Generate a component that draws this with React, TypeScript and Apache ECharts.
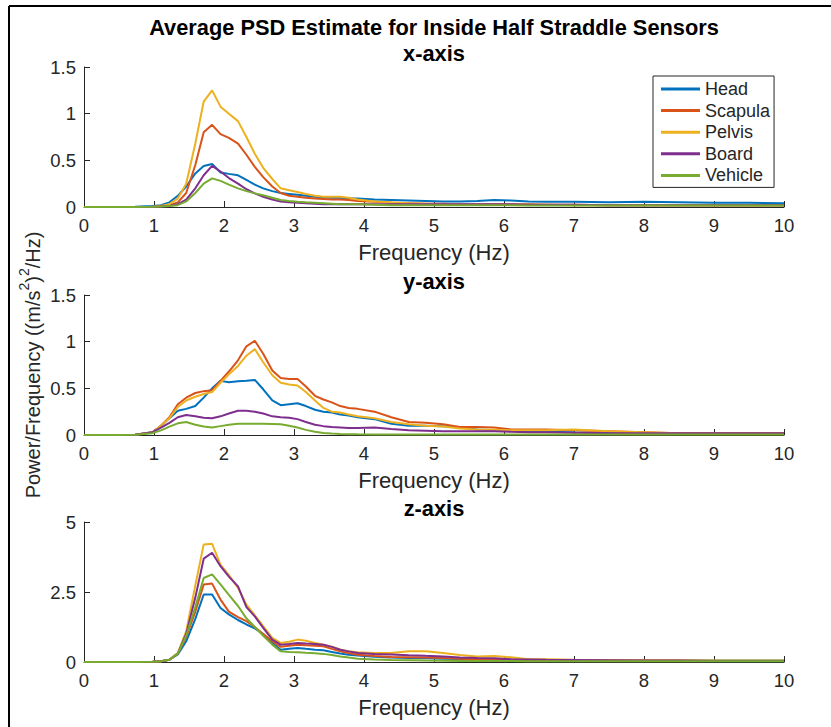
import React, { useEffect, useRef } from "react";
import * as echarts from "echarts";

const freq = [0, 0.49, 0.73, 0.98, 1.1, 1.22, 1.34, 1.46, 1.59, 1.71, 1.83, 1.95, 2.07, 2.2, 2.32, 2.44, 2.56, 2.69, 2.81, 2.93, 3.05, 3.17, 3.3, 3.42, 3.54, 3.66, 3.78, 3.91, 4.15, 4.39, 4.64, 4.88, 5.13, 5.37, 5.62, 5.86, 6.1, 6.35, 6.6, 7.0, 7.5, 8.0, 8.5, 9.0, 9.5, 10];

const sensors = ["Head", "Scapula", "Pelvis", "Board", "Vehicle"];
const colors = ["#0072BD", "#D95319", "#EDB120", "#7E2F8E", "#77AC30"];

// x-axis panel
const headX = [0, 0, 0.002, 0.01, 0.02, 0.05, 0.12, 0.22, 0.36, 0.44, 0.46, 0.37, 0.355, 0.34, 0.29, 0.24, 0.2, 0.17, 0.15, 0.14, 0.13, 0.12, 0.11, 0.105, 0.1, 0.1, 0.095, 0.09, 0.08, 0.075, 0.07, 0.065, 0.06, 0.06, 0.065, 0.075, 0.07, 0.06, 0.055, 0.055, 0.05, 0.055, 0.05, 0.045, 0.045, 0.04];
const scapulaX = [0, 0, 0, 0.003, 0.01, 0.02, 0.05, 0.15, 0.45, 0.8, 0.88, 0.78, 0.74, 0.68, 0.56, 0.43, 0.32, 0.22, 0.15, 0.12, 0.11, 0.1, 0.09, 0.085, 0.08, 0.08, 0.075, 0.065, 0.055, 0.045, 0.04, 0.035, 0.035, 0.03, 0.03, 0.03, 0.03, 0.03, 0.025, 0.025, 0.02, 0.02, 0.02, 0.02, 0.02, 0.02];
const pelvisX = [0, 0, 0, 0.003, 0.01, 0.03, 0.09, 0.25, 0.68, 1.13, 1.25, 1.075, 1.0, 0.92, 0.75, 0.57, 0.42, 0.3, 0.2, 0.18, 0.16, 0.14, 0.12, 0.11, 0.11, 0.11, 0.1, 0.08, 0.06, 0.05, 0.04, 0.035, 0.03, 0.03, 0.03, 0.03, 0.03, 0.025, 0.025, 0.02, 0.02, 0.02, 0.02, 0.015, 0.015, 0.015];
const boardX = [0, 0, 0, 0.002, 0.005, 0.01, 0.03, 0.08, 0.2, 0.34, 0.44, 0.38, 0.31, 0.25, 0.19, 0.146, 0.11, 0.08, 0.06, 0.05, 0.045, 0.04, 0.035, 0.03, 0.03, 0.03, 0.03, 0.03, 0.03, 0.03, 0.03, 0.03, 0.03, 0.03, 0.03, 0.03, 0.03, 0.025, 0.025, 0.025, 0.02, 0.02, 0.02, 0.02, 0.02, 0.02];
const vehicleX = [0, 0, 0, 0.002, 0.005, 0.01, 0.02, 0.06, 0.15, 0.25, 0.307, 0.28, 0.24, 0.2, 0.17, 0.146, 0.125, 0.1, 0.075, 0.065, 0.057, 0.05, 0.045, 0.04, 0.035, 0.03, 0.03, 0.03, 0.025, 0.02, 0.02, 0.02, 0.02, 0.02, 0.02, 0.02, 0.02, 0.015, 0.015, 0.015, 0.015, 0.015, 0.015, 0.015, 0.015, 0.015];

// y-axis panel
const headY = [0, 0, 0.002, 0.03, 0.1, 0.18, 0.26, 0.28, 0.31, 0.4, 0.5, 0.58, 0.565, 0.575, 0.58, 0.59, 0.49, 0.37, 0.32, 0.33, 0.34, 0.31, 0.27, 0.25, 0.24, 0.22, 0.21, 0.19, 0.17, 0.12, 0.1, 0.1, 0.095, 0.08, 0.06, 0.05, 0.045, 0.04, 0.035, 0.03, 0.025, 0.02, 0.02, 0.02, 0.02, 0.02];
const scapulaY = [0, 0, 0.002, 0.03, 0.1, 0.19, 0.33, 0.4, 0.45, 0.47, 0.48, 0.58, 0.68, 0.8, 0.95, 1.01, 0.87, 0.69, 0.61, 0.6, 0.6, 0.52, 0.42, 0.38, 0.35, 0.31, 0.29, 0.28, 0.25, 0.19, 0.14, 0.13, 0.115, 0.085, 0.085, 0.08, 0.06, 0.06, 0.06, 0.05, 0.04, 0.03, 0.02, 0.02, 0.02, 0.02];
const pelvisY = [0, 0, 0.002, 0.03, 0.1, 0.18, 0.3, 0.37, 0.41, 0.44, 0.46, 0.56, 0.65, 0.74, 0.85, 0.92, 0.78, 0.64, 0.56, 0.54, 0.53, 0.46, 0.37, 0.29, 0.25, 0.24, 0.22, 0.2, 0.18, 0.14, 0.115, 0.1, 0.09, 0.07, 0.06, 0.055, 0.05, 0.05, 0.05, 0.06, 0.04, 0.03, 0.02, 0.02, 0.02, 0.02];
const boardY = [0, 0, 0.002, 0.03, 0.08, 0.13, 0.19, 0.215, 0.2, 0.185, 0.18, 0.2, 0.23, 0.26, 0.26, 0.25, 0.23, 0.2, 0.19, 0.185, 0.17, 0.14, 0.11, 0.095, 0.085, 0.08, 0.075, 0.075, 0.08, 0.065, 0.05, 0.045, 0.04, 0.04, 0.04, 0.04, 0.035, 0.03, 0.03, 0.025, 0.02, 0.02, 0.02, 0.02, 0.02, 0.02];
const vehicleY = [0, 0, 0.002, 0.02, 0.05, 0.09, 0.125, 0.14, 0.11, 0.09, 0.08, 0.095, 0.11, 0.12, 0.12, 0.12, 0.12, 0.118, 0.115, 0.1, 0.08, 0.055, 0.035, 0.022, 0.015, 0.01, 0.008, 0.007, 0.006, 0.005, 0.005, 0.005, 0.005, 0.005, 0.005, 0.005, 0.005, 0.005, 0.005, 0.005, 0.005, 0.005, 0.005, 0.005, 0.005, 0.005];

// z-axis panel
const headZ = [0, 0, 0, 0.01, 0.03, 0.08, 0.27, 0.74, 1.54, 2.41, 2.41, 1.93, 1.7, 1.5, 1.34, 1.2, 1.0, 0.68, 0.44, 0.47, 0.5, 0.47, 0.44, 0.42, 0.36, 0.3, 0.26, 0.23, 0.19, 0.16, 0.14, 0.13, 0.12, 0.11, 0.1, 0.09, 0.08, 0.07, 0.07, 0.06, 0.06, 0.05, 0.05, 0.05, 0.05, 0.05];
const scapulaZ = [0, 0, 0, 0.01, 0.03, 0.08, 0.3, 0.9, 1.8, 2.77, 2.8, 2.23, 1.8, 1.6, 1.46, 1.25, 1.0, 0.74, 0.54, 0.58, 0.62, 0.6, 0.58, 0.56, 0.47, 0.38, 0.32, 0.26, 0.21, 0.18, 0.17, 0.16, 0.14, 0.12, 0.1, 0.1, 0.08, 0.08, 0.07, 0.06, 0.05, 0.05, 0.04, 0.04, 0.04, 0.04];
const pelvisZ = [0, 0, 0, 0.01, 0.03, 0.08, 0.32, 1.1, 2.73, 4.2, 4.22, 3.48, 3.1, 2.65, 2.05, 1.67, 1.28, 0.86, 0.68, 0.72, 0.8, 0.76, 0.68, 0.62, 0.55, 0.45, 0.38, 0.35, 0.32, 0.32, 0.38, 0.38, 0.32, 0.25, 0.2, 0.21, 0.17, 0.1, 0.1, 0.08, 0.07, 0.06, 0.06, 0.05, 0.05, 0.05];
const boardZ = [0, 0, 0, 0.01, 0.03, 0.08, 0.3, 1.0, 2.3, 3.69, 3.9, 3.42, 3.05, 2.7, 1.96, 1.63, 1.22, 0.8, 0.62, 0.64, 0.68, 0.66, 0.64, 0.62, 0.54, 0.44, 0.38, 0.32, 0.29, 0.27, 0.24, 0.22, 0.2, 0.16, 0.14, 0.13, 0.1, 0.09, 0.08, 0.07, 0.06, 0.05, 0.05, 0.04, 0.04, 0.04];
const vehicleZ = [0, 0, 0, 0.01, 0.03, 0.08, 0.3, 0.94, 1.96, 3.0, 3.13, 2.77, 2.4, 2.0, 1.56, 1.25, 0.94, 0.62, 0.38, 0.36, 0.35, 0.33, 0.31, 0.29, 0.25, 0.2, 0.16, 0.12, 0.09, 0.07, 0.06, 0.05, 0.045, 0.04, 0.04, 0.035, 0.035, 0.03, 0.03, 0.03, 0.03, 0.03, 0.03, 0.03, 0.03, 0.03];

const panels = [
  { title: "x-axis", max: 1.5, interval: 0.5, series: [headX, scapulaX, pelvisX, boardX, vehicleX] },
  { title: "y-axis", max: 1.5, interval: 0.5, series: [headY, scapulaY, pelvisY, boardY, vehicleY] },
  { title: "z-axis", max: 5, interval: 2.5, series: [headZ, scapulaZ, pelvisZ, boardZ, vehicleZ] },
];

const xTicks = [0, 10, 1]; // min, max, interval
const titleText = "Average PSD Estimate for Inside Half Straddle Sensors";

const FONT = "'Liberation Sans', Arial, Helvetica, sans-serif";
const AX = "#262626";

export default function App() {
  const ref = useRef<HTMLDivElement>(null);
  useEffect(() => {
    if (!ref.current) return;
    const chart = echarts.init(ref.current, null, { renderer: "svg" });
    const gridTops = [67, 295, 522];
    const gridH = 140;
    const titleYs = [53, 281, 508];
    const grids = gridTops.map((t) => ({ left: 84, width: 700, top: t, height: gridH }));
    const xAxes = panels.map((_, i) => ({
      type: "value",
      gridIndex: i,
      min: xTicks[0],
      max: xTicks[1],
      interval: xTicks[2],
      name: "Frequency (Hz)",
      nameLocation: "middle",
      nameGap: 34,
      nameTextStyle: { fontFamily: FONT, fontSize: 22, color: AX },
      axisLine: { show: true, lineStyle: { color: AX, width: 1 } },
      axisTick: { show: true, inside: true, length: 6, lineStyle: { color: AX } },
      axisLabel: { fontFamily: FONT, fontSize: 18.5, color: AX, margin: 9 },
      splitLine: { show: false },
    }));
    const yAxes = panels.map((p, i) => ({
      type: "value",
      gridIndex: i,
      min: 0,
      max: p.max,
      interval: p.interval,
      axisLine: { show: true, lineStyle: { color: AX, width: 1 } },
      axisTick: { show: true, inside: true, length: 6, lineStyle: { color: AX } },
      axisLabel: { fontFamily: FONT, fontSize: 18.5, color: AX, margin: 8 },
      splitLine: { show: false },
    }));
    const series: any[] = [];
    panels.forEach((p, i) => {
      p.series.forEach((vals, k) => {
        series.push({
          type: "line",
          name: sensors[k],
          xAxisIndex: i,
          yAxisIndex: i,
          data: freq.map((f, j) => [f, vals[j]]),
          showSymbol: false,
          symbol: "none",
          lineStyle: { color: colors[k], width: 2 },
          itemStyle: { color: colors[k] },
          clip: true,
        });
      });
    });
    const graphic: any[] = [
      { type: "line", shape: { x1: 9, y1: 6, x2: 831, y2: 6 }, style: { stroke: "#000", lineWidth: 2 } },
      { type: "line", shape: { x1: 9, y1: 6, x2: 9, y2: 727 }, style: { stroke: "#000", lineWidth: 2 } },
      {
        type: "text", x: 434, y: 27,
        style: { text: titleText, fontFamily: FONT, fontSize: 21.8, fontWeight: "bold", fill: "#000", align: "center", verticalAlign: "middle" },
      },
      ...panels.map((p, i) => ({
        type: "text", x: 434, y: titleYs[i],
        style: { text: p.title, fontFamily: FONT, fontSize: 21.8, fontWeight: "bold", fill: "#000", align: "center", verticalAlign: "middle" },
      })),
      {
        type: "text", x: 30, y: 365, rotation: Math.PI / 2,
        style: {
          text: "{n|Power/Frequency ((m/s}{s|2}{n|)}{s|2}{n|/Hz)}",
          align: "center", verticalAlign: "middle",
          rich: {
            n: { fontFamily: FONT, fontSize: 20, fill: AX, lineHeight: 26, verticalAlign: "bottom" },
            s: { fontFamily: FONT, fontSize: 14, fill: AX, lineHeight: 26, verticalAlign: "top" },
          },
        },
      },
    ];
    chart.setOption({
      animation: false,
      backgroundColor: "#fff",
      grid: grids,
      xAxis: xAxes,
      yAxis: yAxes,
      series,
      graphic,
      legend: {
        data: sensors,
        orient: "vertical",
        left: 653,
        top: 76,
        backgroundColor: "#fff",
        borderColor: AX,
        borderWidth: 1,
        borderRadius: 0,
        padding: [4, 4, 3, 8],
        itemGap: 3.6,
        itemWidth: 39,
        itemHeight: 3,
        icon: "rect",
        textStyle: { fontFamily: FONT, fontSize: 18, color: AX, lineHeight: 18 },
        z: 10,
      },
    });
    return () => chart.dispose();
  }, []);
  return (
    <div
      ref={ref}
      style={{ position: "absolute", left: 0, top: 0, width: 831, height: 727, background: "#fff" }}
    />
  );
}
